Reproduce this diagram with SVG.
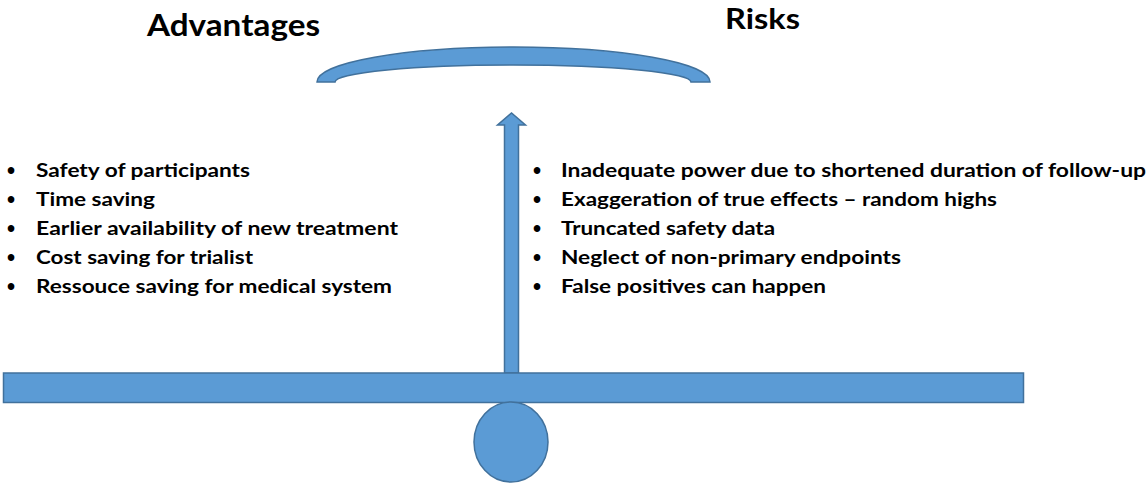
<svg xmlns="http://www.w3.org/2000/svg" width="1148" height="485" viewBox="0 0 1148 485">
  <style>
    .shape { fill: #5B9BD5; stroke: #41719C; stroke-width: 1.5; }
    .head { font-family: Lato, "Liberation Sans", sans-serif; font-weight: 700; fill: #000; }
    .item { font-family: Lato, "Liberation Sans", sans-serif; font-weight: 700; font-size: 19px; fill: #000; }
    .dot { font-family: "Liberation Sans", sans-serif; font-weight: 700; font-size: 23px; fill: #000; }
  </style>
  <rect width="1148" height="485" fill="#fff"/>

  <!-- balance pan -->
  <g id="pan">
    <path class="shape" d="M317,82 A196.5,35 0 0 1 710,82 L691,82 A178,17 0 0 0 335,82 Z"/>
  </g>

  <!-- pointer arrow rising from the beam -->
  <g id="pointer">
    <path class="shape" d="M504.5,373 L504.5,125 L497.5,125 L511.5,113 L525.5,125 L518.5,125 L518.5,373 Z"/>
  </g>

  <!-- beam -->
  <g id="beam">
    <rect class="shape" x="3.5" y="373" width="1020" height="29.5"/>
  </g>

  <!-- fulcrum -->
  <g id="fulcrum">
    <ellipse class="shape" cx="511" cy="442" rx="37" ry="40"/>
  </g>

  <!-- headings -->
  <g id="advantages-title">
    <text class="head" x="147" y="36" font-size="30" textLength="173" lengthAdjust="spacingAndGlyphs">Advantages</text>
  </g>
  <g id="risks-title">
    <text class="head" x="725" y="29" font-size="28" textLength="75" lengthAdjust="spacingAndGlyphs">Risks</text>
  </g>

  <!-- advantages list -->
  <g id="advantages-list">
    <text class="dot" x="7" y="179">•</text>
    <text class="dot" x="7" y="208">•</text>
    <text class="dot" x="7" y="237">•</text>
    <text class="dot" x="7" y="266">•</text>
    <text class="dot" x="7" y="295">•</text>
    <text class="item" x="36" y="177" textLength="214" lengthAdjust="spacingAndGlyphs">Safety of participants</text>
    <text class="item" x="36" y="206" textLength="119" lengthAdjust="spacingAndGlyphs">Time saving</text>
    <text class="item" x="36" y="235" textLength="362" lengthAdjust="spacingAndGlyphs">Earlier availability of new treatment</text>
    <text class="item" x="36" y="264" textLength="217" lengthAdjust="spacingAndGlyphs">Cost saving for trialist</text>
    <text class="item" x="36" y="293" textLength="356" lengthAdjust="spacingAndGlyphs">Ressouce saving for medical system</text>
  </g>

  <!-- risks list -->
  <g id="risks-list">
    <text class="dot" x="533" y="179">•</text>
    <text class="dot" x="533" y="208">•</text>
    <text class="dot" x="533" y="237">•</text>
    <text class="dot" x="533" y="266">•</text>
    <text class="dot" x="533" y="295">•</text>
    <text class="item" x="561" y="177" textLength="585" lengthAdjust="spacingAndGlyphs">Inadequate power due to shortened duration of follow-up</text>
    <text class="item" x="561" y="206" textLength="436" lengthAdjust="spacingAndGlyphs">Exaggeration of true effects – random highs</text>
    <text class="item" x="561" y="235" textLength="214" lengthAdjust="spacingAndGlyphs">Truncated safety data</text>
    <text class="item" x="561" y="264" textLength="340" lengthAdjust="spacingAndGlyphs">Neglect of non-primary endpoints</text>
    <text class="item" x="561" y="293" textLength="265" lengthAdjust="spacingAndGlyphs">False positives can happen</text>
  </g>
</svg>
